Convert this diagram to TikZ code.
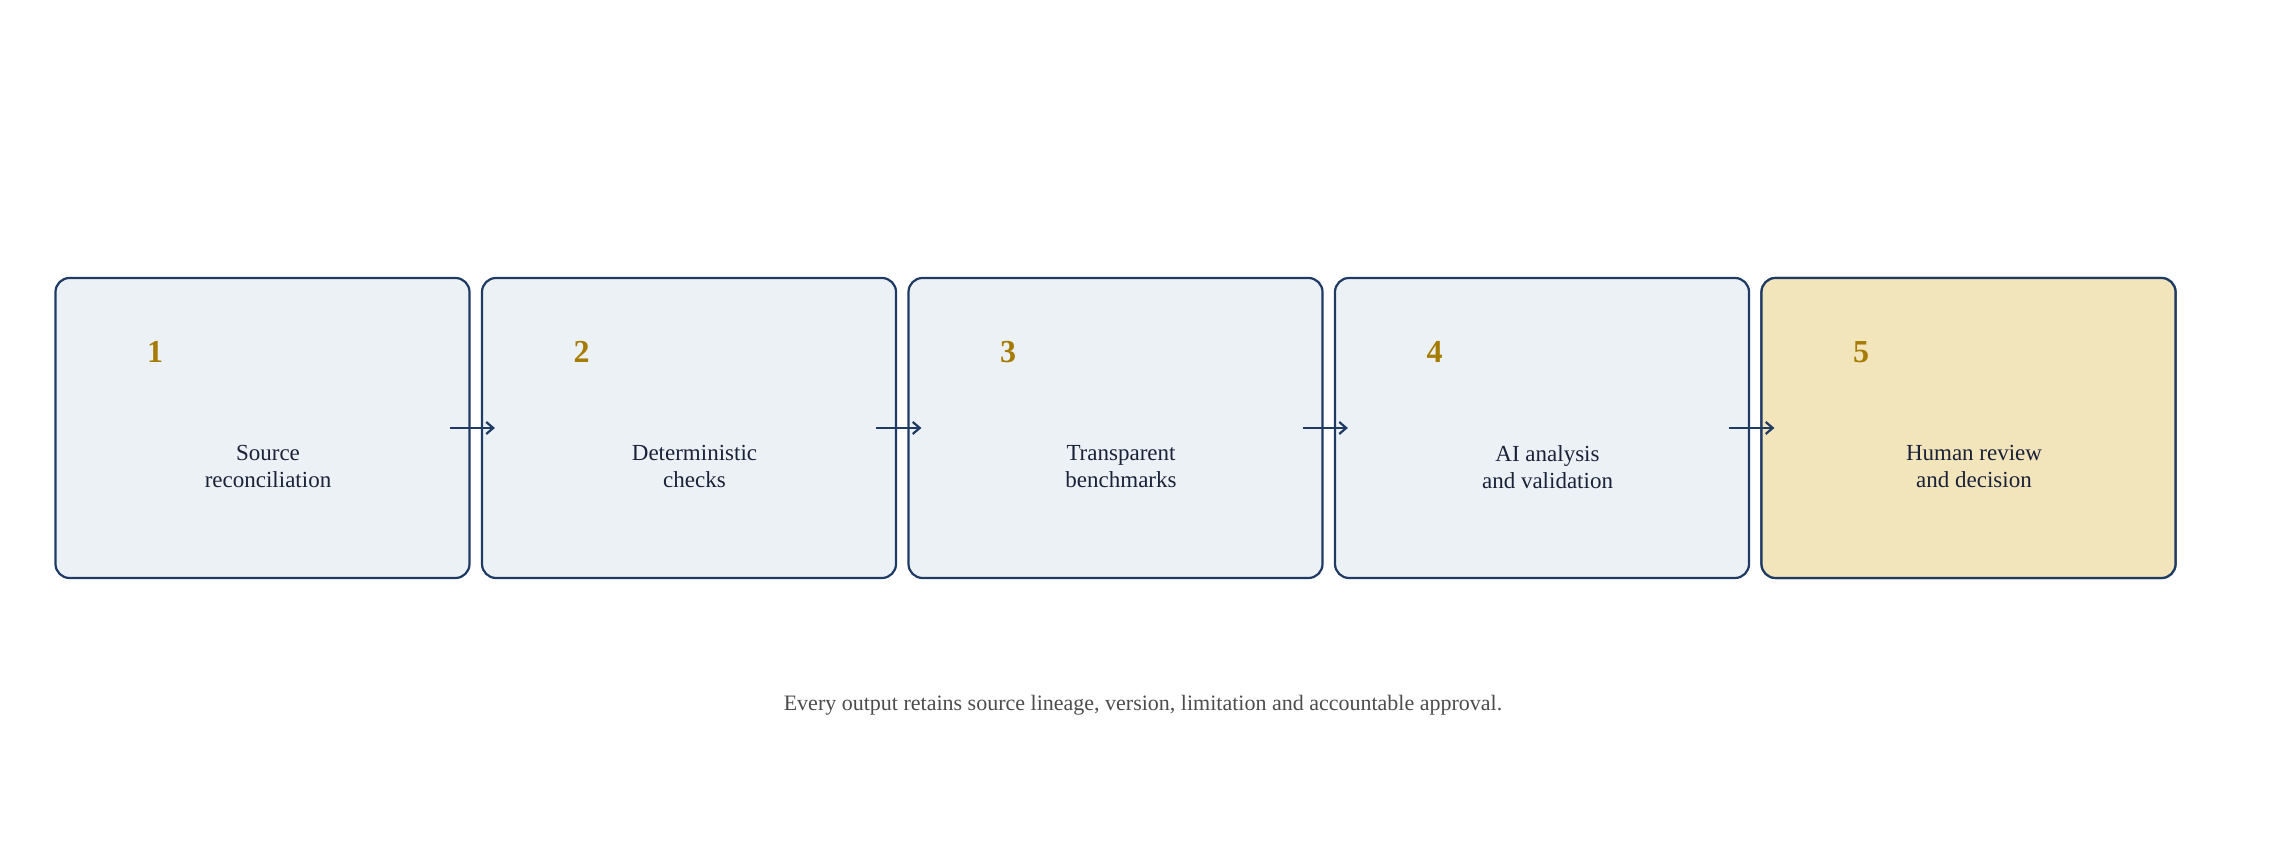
\documentclass[tikz,border=0pt]{standalone}
\usepackage{fontspec}
\setmainfont{Liberation Serif}
\usetikzlibrary{arrows.meta}
\definecolor{navy}{HTML}{1F3A63}
\definecolor{pale}{HTML}{ECF1F6}
\definecolor{gold}{HTML}{F2E5BC}
\definecolor{num}{HTML}{A67C00}
\definecolor{txt}{HTML}{1A2238}
\tikzset{
 stage/.style={draw=navy,line width=2.2pt,rounded corners=14pt,fill=pale,minimum width=414pt,minimum height=300pt,inner sep=0pt},
 numl/.style={text=num,font=\fontsize{32}{36}\selectfont\bfseries,anchor=center},
 lbl/.style={text=txt,font=\fontsize{23}{27}\selectfont,align=center},
 arr/.style={draw=navy,line width=2.2pt,-{Straight Barb[length=7pt,width=12pt]}}
}
\begin{document}
\begin{tikzpicture}[x=1pt,y=1pt]
\useasboundingbox (0,0) rectangle (2288,858);
\foreach \i/\t [count=\k] in {0/{Source\\reconciliation},1/{Deterministic\\checks},2/{Transparent\\benchmarks},3/{AI analysis\\and validation},4/{Human review\\and decision}}{
  \node[stage] (b\k) at ({262.5+426.5*\i},430) {};
  \node[numl] (n\k) at ({155+426.5*\i},506) {\k};
  \node[lbl] (l\k) at ({268+426.5*\i},391) {\t};
}
\node[stage,fill=gold] at (b5) {};
\node[numl] at (n5) {5};
\node[lbl] at (l5) {Human review\\and decision};
\foreach \a/\b in {1/2,2/3,3/4,4/5}{
  \coordinate (s\a) at ([xshift=-21pt,yshift=0pt]b\a.east |- 0,430);
  \coordinate (s\a) at ([xshift=-21pt]b\a.east);
  \coordinate (e\a) at ([xshift=14pt]b\b.west);
  \draw[arr] (s\a) -- (e\a);
}
\node[text=black!70,font=\fontsize{22}{26}\selectfont] (cap) at (1143,153) {Every output retains source lineage, version, limitation and accountable approval.};
\end{tikzpicture}
\end{document}
